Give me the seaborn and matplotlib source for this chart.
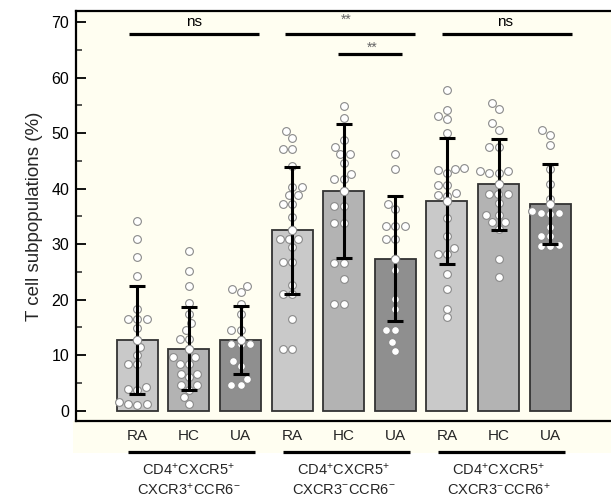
import numpy as np
import pandas as pd
import matplotlib
matplotlib.use("Agg")
import matplotlib.pyplot as plt
import matplotlib.transforms as mtransforms
from matplotlib.patches import Rectangle
from matplotlib.lines import Line2D
from matplotlib.ticker import MultipleLocator
import seaborn as sns

# ---------------- data ----------------
groups = ["RA", "HC", "UA"]
subset_line1 = ["CD4$^{+}$CXCR5$^{+}$", "CD4$^{+}$CXCR5$^{+}$", "CD4$^{+}$CXCR5$^{+}$"]
subset_line2 = ["CXCR3$^{+}$CCR6$^{-}$", "CXCR3$^{-}$CCR6$^{-}$", "CXCR3$^{-}$CCR6$^{+}$"]
categories = [f"{g}_{s}" for s in range(3) for g in groups]
tick_labels = groups * 3

ra_1 = [34.2, 30.9, 27.6, 24.3, 18.4, 16.6, 16.6, 16.6, 14.9, 11.5, 10.0, 8.4, 8.4,
        4.3, 3.8, 4.0, 1.2, 1.0, 1.3, 1.5]
hc_1 = [28.7, 25.1, 22.5, 19.4, 17.5, 15.8, 14.5, 13.0, 13.0, 9.7, 9.7, 8.5, 8.5,
        6.7, 6.7, 6.0, 4.6, 4.6, 3.8, 2.5, 1.2]
ua_1 = [22.5, 21.9, 21.3, 19.3, 17.5, 14.5, 14.5, 12.0, 12.0, 12.0, 9.0, 8.0, 5.8,
        4.6, 4.6]
ra_2 = [50.3, 49.1, 47.2, 47.2, 44.1, 40.3, 40.3, 38.8, 38.8, 37.3, 37.3, 34.9,
        31.0, 31.0, 31.0, 29.5, 26.7, 26.7, 22.6, 21.0, 21.0, 16.6, 11.2, 11.2]
hc_2 = [54.9, 52.7, 48.7, 47.5, 46.2, 46.2, 44.7, 42.7, 41.7, 41.7, 36.9, 36.9,
        33.8, 33.8, 26.6, 26.6, 23.7, 19.3, 19.3]
ua_2 = [46.3, 43.6, 37.3, 36.3, 33.3, 33.3, 33.3, 31.0, 31.0, 25.3, 20.1, 18.4,
        14.5, 14.5, 12.3, 10.8]
ra_3 = [57.7, 54.1, 53.0, 52.5, 50.1, 43.8, 43.6, 43.3, 42.8, 40.6, 40.6, 39.2,
        38.7, 38.9, 34.7, 31.4, 29.3, 28.3, 28.3, 24.7, 22.0, 18.4, 16.8]
hc_3 = [55.5, 54.3, 51.8, 50.6, 47.5, 47.5, 43.2, 42.9, 42.9, 43.2, 39.1, 39.1,
        39.1, 37.5, 35.2, 35.2, 34.0, 34.0, 32.8, 27.4, 24.0]
ua_3 = [50.5, 49.6, 47.8, 43.5, 40.8, 38.2, 35.7, 35.5, 35.7, 36.0, 33.1, 31.5,
        31.5, 29.6, 29.6, 29.8]

means = [12.7, 11.2, 12.7, 32.5, 39.6, 27.4, 37.8, 40.8, 37.2]
sds = [9.7, 7.4, 6.1, 11.4, 12.1, 11.2, 11.3, 8.2, 7.2]

sig_labels = ["ns", "**", "**", "ns"]

bar_colors = ["#C9C9C9", "#B3B3B3", "#8F8F8F"]
cream = "#FFFEF1"

# ---------------- build frames ----------------
points = [ra_1, hc_1, ua_1, ra_2, hc_2, ua_2, ra_3, hc_3, ua_3]
df_pts = pd.DataFrame({
    "cat": np.concatenate([[c] * len(p) for c, p in zip(categories, points)]),
    "val": np.concatenate(points),
})
df_bar = pd.DataFrame({"cat": categories, "mean": means, "sd": sds,
                       "grp": tick_labels})

# ---------------- style ----------------
sns.set_theme(style="ticks")
plt.rcParams["font.family"] = ["Liberation Sans", "DejaVu Sans"]
plt.rcParams["mathtext.fontset"] = "custom"
plt.rcParams["mathtext.rm"] = "Liberation Sans"
plt.rcParams["mathtext.it"] = "Liberation Sans:italic"
plt.rcParams["mathtext.bf"] = "Liberation Sans:bold"

W, H = 611, 496
fig = plt.figure(figsize=(W / 100, H / 100), dpi=100)
fig.patch.set_facecolor("white")
ax = fig.add_axes([76 / W, (H - 421) / H, 1 - 76 / W, (421 - 11) / H])
ax.set_facecolor(cream)

# cream band under the axes (tick label area)
fig.add_artist(Rectangle((72.7 / W, (H - 452.7) / H), 1 - 72.7 / W, (452.7 - 421) / H,
                         transform=fig.transFigure, facecolor=cream,
                         edgecolor="none", zorder=-1))

sns.barplot(data=df_bar, x="cat", y="mean", hue="grp", order=categories,
            hue_order=groups, palette=bar_colors, dodge=False, legend=False,
            edgecolor="#333333", linewidth=1.3, width=0.795, errorbar=None,
            ax=ax, zorder=1)

sns.swarmplot(data=df_pts, x="cat", y="val", order=categories, color="white",
              edgecolor="#8A8A8A", linewidth=0.8, size=5.6, ax=ax, zorder=2)

xpos = np.arange(len(categories))
ax.errorbar(xpos, df_bar["mean"], yerr=df_bar["sd"], fmt="none", ecolor="black",
            elinewidth=2.2, capsize=6, capthick=2.2, zorder=3)
ax.plot(xpos, df_bar["mean"], "o", mfc="white", mec="#8A8A8A", mew=0.8, ms=6,
        zorder=4, linestyle="none")

# axes limits & ticks
ax.set_xlim(-1.19, 9.18)
ax.set_ylim(-1.85, 72)
ax.set_yticks(range(0, 71, 10))
ax.yaxis.set_minor_locator(MultipleLocator(5))
ax.tick_params(axis="y", which="major", direction="in", length=7, width=1.3,
               labelsize=11.5, pad=5, colors="black")
ax.tick_params(axis="y", which="minor", direction="in", length=4, width=1.1)
ax.set_xticks(xpos)
ax.set_xticklabels(tick_labels)
ax.tick_params(axis="x", length=0, labelsize=11, pad=6)
ax.set_xlabel("")
ax.set_ylabel("T cell subpopulations (%)", fontsize=13.5, labelpad=6)
for side in ["top", "left", "bottom"]:
    ax.spines[side].set_visible(True)
    ax.spines[side].set_linewidth(1.6)
    ax.spines[side].set_color("black")
ax.spines["right"].set_visible(False)

# significance bars
sig_lines = [(-0.16, 2.35, 67.9), (2.87, 5.39, 67.9), (3.88, 5.13, 64.3), (5.91, 8.43, 67.9)]
sig_text_pos = [(1.1, 70.0), (4.05, 70.4), (4.56, 65.4), (7.12, 70.0)]
for (x0, x1, y), (tx, ty), lab in zip(sig_lines, sig_text_pos, sig_labels):
    ax.plot([x0, x1], [y, y], color="black", lw=2.3, solid_capstyle="butt",
            zorder=5, clip_on=False)
    if lab == "ns":
        ax.text(tx, ty, lab, ha="center", va="center", fontsize=11, color="black")
    else:
        ax.text(tx, ty, lab, ha="center", va="center", fontsize=10, color="#666666")

# group underline and group labels below x tick labels
blend = mtransforms.blended_transform_factory(ax.transData, fig.transFigure)
for i in range(3):
    base = i * 3
    fig.add_artist(Line2D([base - 0.18, base + 2.28], [(H - 452) / H] * 2,
                          transform=blend, color="black", lw=2.3,
                          solid_capstyle="butt"))
    ax.text(base + 1, (H - 470) / H, subset_line1[i], transform=blend,
            ha="center", va="center", fontsize=10.5, clip_on=False)
    ax.text(base + 1, (H - 489.5) / H, subset_line2[i], transform=blend,
            ha="center", va="center", fontsize=10.5, clip_on=False)

fig.savefig("out.png", dpi=100, facecolor="white")
